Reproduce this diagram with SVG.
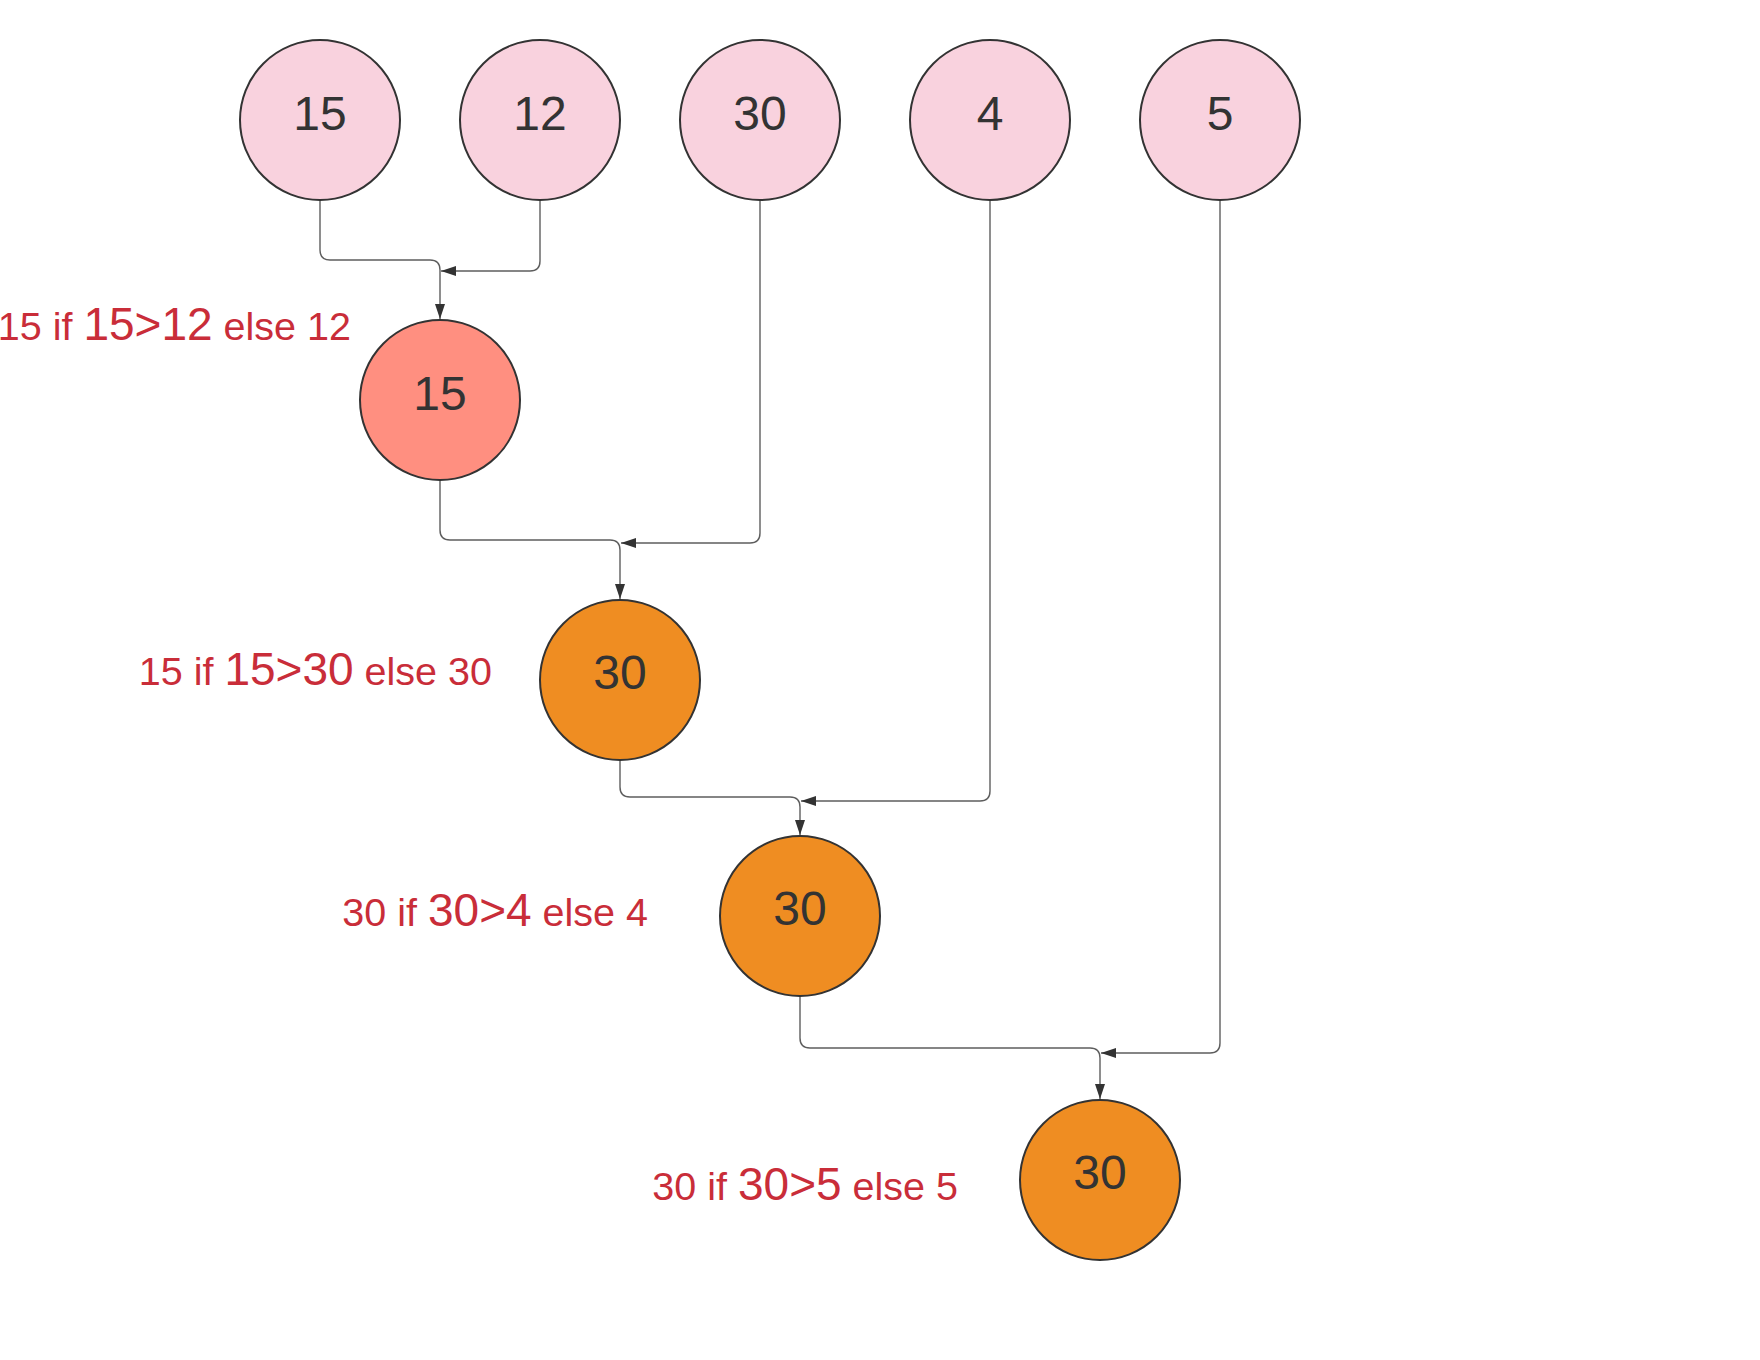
<svg xmlns="http://www.w3.org/2000/svg" width="1760" height="1360" viewBox="0 0 1760 1360">
<style>
.n circle{stroke:#333;stroke-width:2}
.pink{fill:#f9d2de}
.red{fill:#ff8f80}
.orange{fill:#ef8d22}
.n text{font-family:"Liberation Sans",Arial,sans-serif;font-size:48px;fill:#333;text-anchor:middle}
.lbl{font-family:"Liberation Sans",Arial,sans-serif;font-size:39.5px;fill:#c92d39;text-anchor:end}
.big{font-size:46px}
.c path{fill:none;stroke:#5e5e5e;stroke-width:1.4;marker-end:url(#ah)}
</style>
<defs>
<marker id="ah" markerWidth="15" markerHeight="10" refX="15" refY="5" orient="auto" markerUnits="userSpaceOnUse">
<path d="M0,0 L15,5 L0,10 Z" fill="#333"/>
</marker>
</defs>
<rect width="1760" height="1360" fill="#fff"/>
<g class="c" id="connectors">
<path d="M320 200 V250 Q320 260 330 260 H430 Q440 260 440 270 V319"/>
<path d="M540 200 V261 Q540 271 530 271 H441"/>
<path d="M440 480 V530 Q440 540 450 540 H610 Q620 540 620 550 V599"/>
<path d="M760 200 V533 Q760 543 750 543 H621"/>
<path d="M620 760 V787 Q620 797 630 797 H790 Q800 797 800 807 V835"/>
<path d="M990 200 V791 Q990 801 980 801 H801"/>
<path d="M800 996 V1038 Q800 1048 810 1048 H1090 Q1100 1048 1100 1058 V1099"/>
<path d="M1220 200 V1043 Q1220 1053 1210 1053 H1101"/>
</g>
<g class="n" id="n15"><circle class="pink" cx="320" cy="120" r="80"/><text x="320" y="130">15</text></g>
<g class="n" id="n12"><circle class="pink" cx="540" cy="120" r="80"/><text x="540" y="130">12</text></g>
<g class="n" id="n30"><circle class="pink" cx="760" cy="120" r="80"/><text x="760" y="130">30</text></g>
<g class="n" id="n4"><circle class="pink" cx="990" cy="120" r="80"/><text x="990" y="130">4</text></g>
<g class="n" id="n5"><circle class="pink" cx="1220" cy="120" r="80"/><text x="1220" y="130">5</text></g>
<g class="n" id="m1"><circle class="red" cx="440" cy="400" r="80"/><text x="440" y="410">15</text></g>
<g class="n" id="m2"><circle class="orange" cx="620" cy="680" r="80"/><text x="620" y="689">30</text></g>
<g class="n" id="m3"><circle class="orange" cx="800" cy="916" r="80"/><text x="800" y="925">30</text></g>
<g class="n" id="m4"><circle class="orange" cx="1100" cy="1180" r="80"/><text x="1100" y="1189">30</text></g>
<g id="labels">
<text class="lbl" x="351" y="340">15 if <tspan class="big">15&gt;12</tspan> else 12</text>
<text class="lbl" x="492" y="685">15 if <tspan class="big">15&gt;30</tspan> else 30</text>
<text class="lbl" x="648" y="926">30 if <tspan class="big">30&gt;4</tspan> else 4</text>
<text class="lbl" x="958" y="1200">30 if <tspan class="big">30&gt;5</tspan> else 5</text>
</g>
</svg>
